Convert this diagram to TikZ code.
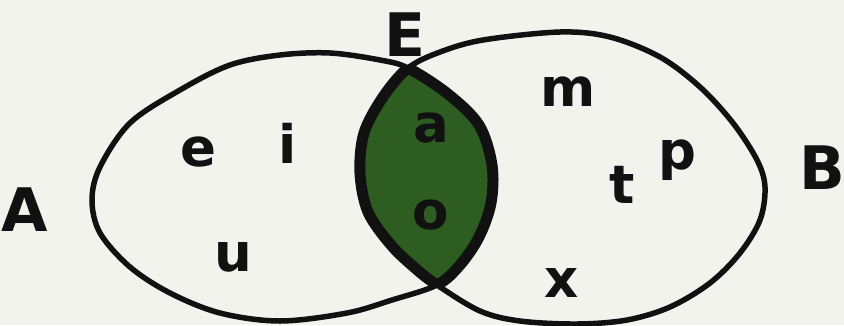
\documentclass[tikz,border=0pt]{standalone}
\usepackage{fontspec}
\setmainfont{DejaVu Sans}
\definecolor{paper}{HTML}{F3F3EE}
\definecolor{lensgreen}{HTML}{2E5D22}
\definecolor{ink}{HTML}{111111}
\tikzset{
  setline/.style={draw=ink, line width=5.5pt},
  lensline/.style={draw=ink, line width=11pt},
  biglabel/.style={text=ink, inner sep=0pt, font=\fontsize{60}{70}\selectfont\bfseries},
  smalllabel/.style={text=ink, inner sep=0pt, font=\fontsize{53}{62}\selectfont\bfseries},
}
\begin{document}
\begin{tikzpicture}[x=1pt,y=-1pt]
  \fill[paper] (0,0) rectangle (844,325);
  \useasboundingbox (0,0) rectangle (844,325);
  \def\setApath{plot[smooth cycle, tension=0.55] coordinates {
    (408,68) (380,60) (330,53) (280,55) (230,65) (180,90) (130,123) (100,167)
    (92,200) (100,233) (130,267) (170,293) (220,313) (280,321) (347,313)
    (392,300) (437,285) (460,265) (479,237) (491,203) (492,165) (479,125) (448,94)}}
  \def\setBpath{plot[smooth cycle, tension=0.55] coordinates {
    (408,68) (440,52) (483,40) (560,32) (610,37) (660,57) (700,87) (733,123)
    (757,160) (765,187) (760,220) (740,253) (710,283) (670,307) (627,320)
    (577,324) (520,321) (480,311) (437,285) (415,268) (391,245) (368,212)
    (360,173) (364,133) (383,97)}}
  % lens fill
  \begin{scope}
    \clip \setBpath;
    \fill[lensgreen] \setApath;
  \end{scope}
  % outlines
  \draw[setline] \setApath;
  \draw[setline] \setBpath;
  % thick lens border
  \begin{scope}
    \clip \setBpath;
    \draw[lensline] \setApath;
  \end{scope}
  \begin{scope}
    \clip \setApath;
    \draw[lensline] \setBpath;
  \end{scope}
  % labels
  \node[biglabel] (E) at (405,35) {E};
  \node[biglabel] (A) at (25,210) {A};
  \node[biglabel] (B) at (822,168) {B};
  \node[smalllabel] (le) at (198,152) {e};
  \node[smalllabel] (li) at (288,143) {i};
  \node[smalllabel] (lu) at (233,257) {u};
  \node[smalllabel] (la) at (431,128) {a};
  \node[smalllabel] (lo) at (431,215) {o};
  \node[smalllabel] (lm) at (568,92) {m};
  \node[smalllabel] (lp) at (677,160) {p};
  \node[smalllabel] (lt) at (622,185) {t};
  \node[smalllabel] (lx) at (562,283) {x};
\end{tikzpicture}
\end{document}
